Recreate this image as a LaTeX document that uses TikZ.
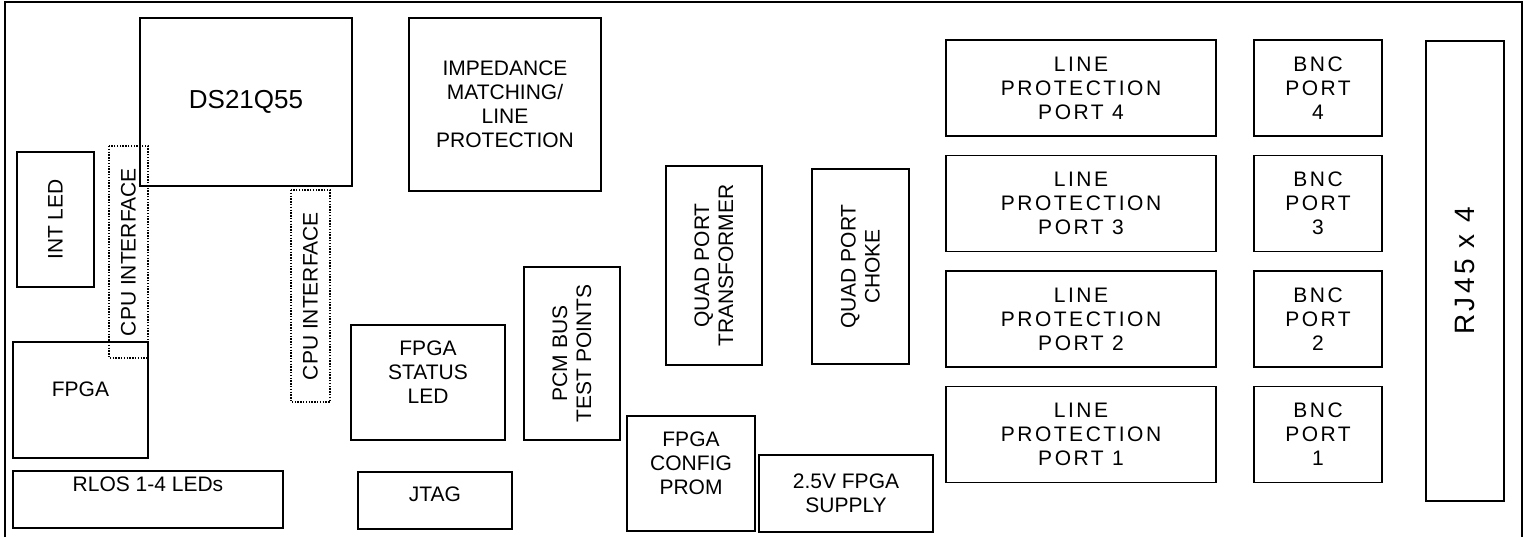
\documentclass[tikz,border=0pt]{standalone}
\usepackage{fontspec}
\setmainfont{Liberation Sans}
\newfontfamily\spaced[LetterSpace=12]{Liberation Sans}
\usetikzlibrary{positioning}

\tikzset{
    box/.style 2 args={draw=black, line width=0.8pt, rectangle, inner sep=0pt, minimum width=#1*0.5pt, minimum height=#2*0.5pt, align=center},
    cpubox/.style 2 args={box={#1}{#2}, line width=0.7pt, dash pattern=on 0.7pt off 0.7pt},
    spacedtext/.style={font=\spaced\fontsize{10.5}{12}\selectfont},
    tag/.style={align=center, inner sep=0pt}
}

\begin{document}
\begin{tikzpicture}[x=0.5pt, y=-0.5pt, node distance=57.75pt, font=\fontsize{10.5}{12}\selectfont]
    \useasboundingbox (0,0) rectangle (1528,537);
    % board outline
    \draw[line width=1pt] (5,537) -- (5,2) -- (1522,2) -- (1522,537);

    % framer and local interface
    \node (ds21q55) [box={212}{168}, font=\fontsize{13}{15}\selectfont] at (246,102) {DS21Q55};
    \node (impedance) [box={192}{173}] at (505,104.5) {IMPEDANCE\\MATCHING/\\LINE\\PROTECTION};
    \node (intled) [box={135}{77}, rotate=90] at (55.5,219.5) {INT LED};
    \node (cpuleft) [cpubox={212}{39}, rotate=90] at (128.5,252) {CPU INTERFACE};
    \node (cpuright) [cpubox={212}{39}, rotate=90] at (310.5,296) {CPU INTERFACE};
    \node (fpga) [box={135}{116}, label={[tag, yshift=5.5pt]center:FPGA}] at (80.5,400) {};
    \node (rlos) [box={270}{57}, label={[tag, yshift=7.5pt]center:RLOS 1-4 LEDs}] at (148,499.5) {};
    \node (fpgastatus) [box={154}{115}, label={[tag, yshift=5pt]center:FPGA\\STATUS\\LED}] at (428,382.5) {};
    \node (jtag) [box={154}{57}, label={[tag, yshift=3pt]center:JTAG}] at (435,500.5) {};
    \node (pcmbus) [box={173}{96}, rotate=90] at (572,353.5) {PCM BUS\\TEST POINTS};
    \node (prom) [box={128}{115}, label={[tag, yshift=5pt]center:FPGA\\CONFIG\\PROM}] at (691,473.5) {};
    \node (supply) [box={174}{77}] at (846,493.5) {2.5V FPGA\\SUPPLY};

    % line side
    \node (xfmr) [box={199}{96}, rotate=90] at (714,265.5) {QUAD PORT\\TRANSFORMER};
    \node (choke) [box={195}{97}, rotate=90] at (860.5,266.5) {QUAD PORT\\CHOKE};
    \node (lineprot4) [box={270}{96}, spacedtext] at (1081,88) {LINE\\PROTECTION\\PORT 4};
    \node (lineprot3) [box={270}{96}, spacedtext, below of=lineprot4] {LINE\\PROTECTION\\PORT 3};
    \node (lineprot2) [box={270}{96}, spacedtext, below of=lineprot3] {LINE\\PROTECTION\\PORT 2};
    \node (lineprot1) [box={270}{96}, spacedtext, below of=lineprot2] {LINE\\PROTECTION\\PORT 1};
    \node (bnc4) [box={128}{96}, spacedtext] at (1318,88) {BNC\\PORT\\4};
    \node (bnc3) [box={128}{96}, spacedtext, below of=bnc4] {BNC\\PORT\\3};
    \node (bnc2) [box={128}{96}, spacedtext, below of=bnc3] {BNC\\PORT\\2};
    \node (bnc1) [box={128}{96}, spacedtext, below of=bnc2] {BNC\\PORT\\1};
    \node (rj45) [box={460}{78}, rotate=90, font=\spaced\fontsize{14}{16}\selectfont] at (1465,271) {RJ45 x 4};
\end{tikzpicture}
\end{document}
